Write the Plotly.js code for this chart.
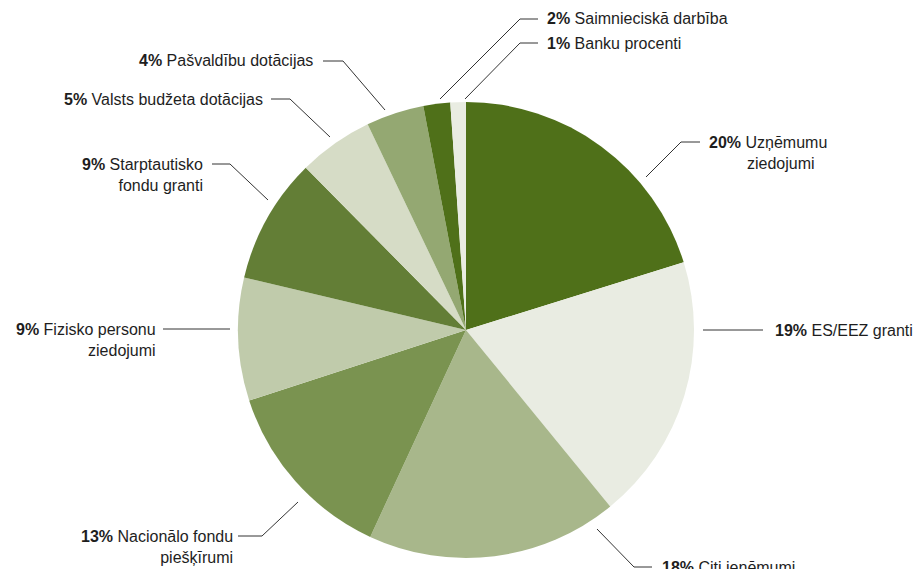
<!DOCTYPE html>
<html>
<head>
<meta charset="utf-8">
<script src="https://cdn.plot.ly/plotly-3.0.1.min.js"></script>
<style>html,body{margin:0;padding:0;background:#fff}#chart{width:915px;height:569px}</style>
</head>
<body>
<div id="chart"></div>
<script>
// Data
const categories = ["Uzņēmumu ziedojumi", "ES/EEZ granti", "Citi ieņēmumi", "Nacionālo fondu piešķīrumi",
  "Fizisko personu ziedojumi", "Starptautisko fondu granti", "Valsts budžeta dotācijas",
  "Pašvaldību dotācijas", "Saimnieciskā darbība", "Banku procenti"];
const values = [20.2, 18.9, 17.8, 13.1, 8.7, 8.9, 5.3, 4.1, 1.9, 1.1];
const percentLabels = ["20%", "19%", "18%", "13%", "9%", "9%", "5%", "4%", "2%", "1%"];
const labelLines = [
  ["Uzņēmumu", "ziedojumi"],
  ["ES/EEZ granti"],
  ["Citi ieņēmumi"],
  ["Nacionālo fondu", "piešķīrumi"],
  ["Fizisko personu", "ziedojumi"],
  ["Starptautisko", "fondu granti"],
  ["Valsts budžeta dotācijas"],
  ["Pašvaldību dotācijas"],
  ["Saimnieciskā darbība"],
  ["Banku procenti"]
];
const colors = ["#4f7019", "#e9ece2", "#a8b78b", "#7a9350", "#c0cbab", "#637e36", "#d6dcc6", "#94a872", "#4f7019", "#e9ece2"];

// Layout geometry (pixels)
const W = 915, H = 569;
const cx = 466, cy = 330, R = 228;
const px = x => x / W;
const py = y => 1 - y / H;

// leader lines: [start on pie, elbow, end], text side and text anchor position
const leaders = [
  {pts: [[646,177],[681,142],[700,142]], side: "right", tx: 707, ty: 142, indent: 38},
  {pts: [[703,330],[763,330]], side: "right", tx: 773, ty: 330},
  {pts: [[597,529],[634,567],[652,567]], side: "right", tx: 660, ty: 567},
  {pts: [[298,502],[262,536],[238,536]], side: "left", tx: 235, ty: 536},
  {pts: [[230,329],[163,329]], side: "left", tx: 158, ty: 329},
  {pts: [[268,200],[230,164],[212,164]], side: "left", tx: 205, ty: 164},
  {pts: [[330,137],[290,99],[271,99]], side: "left", tx: 265, ty: 99},
  {pts: [[385,110],[343,61],[323,61]], side: "left", tx: 315, ty: 61},
  {pts: [[440,99],[520,19],[538,19]], side: "right", tx: 545, ty: 19},
  {pts: [[465,99],[520,43],[538,43]], side: "right", tx: 545, ty: 43}
];

const shapes = leaders.map(l => ({
  type: "path", xref: "paper", yref: "paper",
  path: l.pts.map((p, i) => (i ? "L" : "M") + px(p[0]) + "," + py(p[1])).join(" "),
  line: {color: "#333333", width: 1}
}));

const font = {family: "'Liberation Sans', Arial, sans-serif", size: 16, color: "#1e1e1e"};
const annotations = [];
leaders.forEach((l, i) => {
  const lines = labelLines[i];
  const first = "<b>" + percentLabels[i] + "</b> " + lines[0];
  if (l.side === "left") {
    const txt = [first].concat(lines.slice(1)).join("<br>");
    annotations.push({xref: "paper", yref: "paper", x: px(l.tx), y: py(l.ty - 10.5), xanchor: "right", yanchor: "top",
      text: txt, showarrow: false, align: "right", font: font});
  } else {
    annotations.push({xref: "paper", yref: "paper", x: px(l.tx), y: py(l.ty), xanchor: "left", yanchor: "middle",
      text: first, showarrow: false, align: "left", font: font});
    if (lines.length > 1) {
      annotations.push({xref: "paper", yref: "paper", x: px(l.tx + l.indent), y: py(l.ty + 21), xanchor: "left", yanchor: "middle",
        text: lines.slice(1).join("<br>"), showarrow: false, align: "left", font: font});
    }
  }
});

const trace = {
  type: "pie",
  labels: categories,
  values: values,
  sort: false,
  direction: "clockwise",
  rotation: 0,
  textinfo: "none",
  hoverinfo: "label+percent",
  marker: {colors: colors, line: {width: 0}},
  domain: {x: [px(cx - R), px(cx + R)], y: [py(cy + R), py(cy - R)]}
};

const layout = {
  width: W, height: H,
  margin: {l: 0, r: 0, t: 0, b: 0},
  paper_bgcolor: "#ffffff",
  showlegend: false,
  shapes: shapes,
  annotations: annotations,
  font: font
};

Plotly.newPlot("chart", [trace], layout, {displayModeBar: false, staticPlot: true});
</script>
</body>
</html>
